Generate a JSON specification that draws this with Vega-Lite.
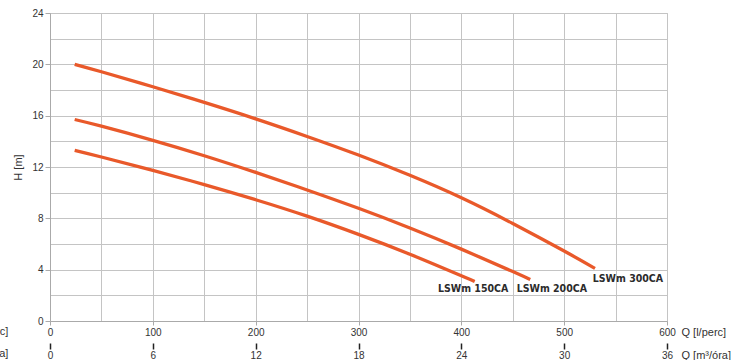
{
  "$schema": "https://vega.github.io/schema/vega-lite/v6.json",
  "width": 617,
  "height": 308,
  "autosize": "none",
  "padding": {"left": 50, "top": 13, "right": 79, "bottom": 39},
  "config": {
    "view": {"stroke": "#c4c4c4", "strokeWidth": 1},
    "font": "Liberation Sans",
    "axis": {
      "labelFont": "Liberation Sans",
      "labelFontSize": 10,
      "labelColor": "#333333",
      "titleFont": "Liberation Sans",
      "titleFontSize": 11,
      "titleFontWeight": "normal",
      "titleColor": "#333333",
      "domainColor": "#aaaaaa",
      "tickColor": "#aaaaaa",
      "gridColor": "#c4c4c4",
      "gridWidth": 1
    }
  },
  "datasets": {
    "curves": [
      {"model": "LSWm 300CA", "Q": 24, "H": 20.0},
      {"model": "LSWm 300CA", "Q": 50, "H": 19.42},
      {"model": "LSWm 300CA", "Q": 100, "H": 18.25},
      {"model": "LSWm 300CA", "Q": 150, "H": 17.03},
      {"model": "LSWm 300CA", "Q": 200, "H": 15.75},
      {"model": "LSWm 300CA", "Q": 250, "H": 14.38},
      {"model": "LSWm 300CA", "Q": 300, "H": 12.93},
      {"model": "LSWm 300CA", "Q": 350, "H": 11.35},
      {"model": "LSWm 300CA", "Q": 400, "H": 9.6},
      {"model": "LSWm 300CA", "Q": 450, "H": 7.6},
      {"model": "LSWm 300CA", "Q": 500, "H": 5.45},
      {"model": "LSWm 300CA", "Q": 530, "H": 4.1},
      {"model": "LSWm 200CA", "Q": 24, "H": 15.7},
      {"model": "LSWm 200CA", "Q": 50, "H": 15.18},
      {"model": "LSWm 200CA", "Q": 100, "H": 14.08},
      {"model": "LSWm 200CA", "Q": 150, "H": 12.88},
      {"model": "LSWm 200CA", "Q": 200, "H": 11.58},
      {"model": "LSWm 200CA", "Q": 250, "H": 10.21},
      {"model": "LSWm 200CA", "Q": 300, "H": 8.78},
      {"model": "LSWm 200CA", "Q": 350, "H": 7.25},
      {"model": "LSWm 200CA", "Q": 400, "H": 5.6},
      {"model": "LSWm 200CA", "Q": 450, "H": 3.85},
      {"model": "LSWm 200CA", "Q": 467, "H": 3.23},
      {"model": "LSWm 150CA", "Q": 24, "H": 13.3},
      {"model": "LSWm 150CA", "Q": 50, "H": 12.78},
      {"model": "LSWm 150CA", "Q": 100, "H": 11.73},
      {"model": "LSWm 150CA", "Q": 150, "H": 10.63},
      {"model": "LSWm 150CA", "Q": 200, "H": 9.45},
      {"model": "LSWm 150CA", "Q": 250, "H": 8.17},
      {"model": "LSWm 150CA", "Q": 300, "H": 6.75},
      {"model": "LSWm 150CA", "Q": 350, "H": 5.2},
      {"model": "LSWm 150CA", "Q": 400, "H": 3.52},
      {"model": "LSWm 150CA", "Q": 413, "H": 3.07}
    ],
    "labels": [
      {"label": "LSWm 150CA", "Q": 411.5, "H": 2.51},
      {"label": "LSWm 200CA", "Q": 488, "H": 2.51},
      {"label": "LSWm 300CA", "Q": 562, "H": 3.3}
    ],
    "sidetitles": [
      {"title": "Q [l/perc]", "Q": -40.5, "H": -0.86},
      {"title": "Q [m³/óra]", "Q": -40.5, "H": -2.6}
    ]
  },
  "resolve": {"axis": {"x": "independent", "y": "independent"}},
  "layer": [
    {
      "data": {"name": "curves"},
      "mark": {"type": "line", "interpolate": "natural", "color": "#e9592a", "strokeWidth": 3.3, "strokeCap": "butt"},
      "encoding": {
        "x": {
          "field": "Q", "type": "quantitative",
          "scale": {"domain": [0, 600], "nice": false, "zero": false},
          "axis": {
            "values": [0, 50, 100, 150, 200, 250, 300, 350, 400, 450, 500, 550, 600],
            "grid": true,
            "labelFlush": false,
            "labelOverlap": false,
            "labelExpr": "datum.value % 100 === 0 ? datum.label : ''",
            "tickColor": {"condition": {"test": "datum.value % 100 === 0", "value": "#aaaaaa"}, "value": "transparent"},
            "tickSize": 4,
            "labelPadding": 2,
            "title": "Q [l/perc]",
            "titleX": 631,
            "titleY": 11,
            "titleAlign": "left",
            "titleBaseline": "middle",
            "titleAnchor": null
          }
        },
        "y": {
          "field": "H", "type": "quantitative",
          "scale": {"domain": [0, 24], "nice": false},
          "axis": {
            "values": [0, 2, 4, 6, 8, 10, 12, 14, 16, 18, 20, 22, 24],
            "grid": true,
            "labelOverlap": false,
            "labelExpr": "datum.value % 4 === 0 ? datum.label : ''",
            "tickColor": {"condition": {"test": "datum.value % 4 === 0", "value": "#aaaaaa"}, "value": "transparent"},
            "tickSize": 5,
            "labelPadding": 2,
            "title": "H [m]",
            "titleX": -32,
            "titleY": 154,
            "titleAngle": -90,
            "titleAlign": "center",
            "titleBaseline": "middle"
          }
        },
        "detail": {"field": "model"}
      }
    },
    {
      "data": {"name": "labels"},
      "mark": {"type": "text", "font": "DejaVu Sans Condensed", "fontWeight": "bold", "fontSize": 10.5, "color": "#2b2b2b", "align": "center", "baseline": "middle"},
      "encoding": {
        "x": {
          "field": "Q", "type": "quantitative",
          "scale": {"domain": [0, 600], "nice": false, "zero": false},
          "axis": {
            "orient": "bottom",
            "offset": 22,
            "values": [0, 100, 200, 300, 400, 500, 600],
            "labelExpr": "format(datum.value * 0.06, 'd')",
            "labelFlush": false,
            "labelOverlap": false,
            "grid": false,
            "domain": false,
            "tickColor": "#222222",
            "tickWidth": 1.5,
            "tickSize": 6,
            "labelPadding": 1,
            "title": "Q [m³/óra]",
            "titleX": 631,
            "titleY": 12,
            "titleAlign": "left",
            "titleBaseline": "middle",
            "titleAnchor": null
          }
        },
        "y": {"field": "H", "type": "quantitative", "scale": {"domain": [0, 24], "nice": false}, "axis": null},
        "text": {"field": "label"}
      }
    },
    {
      "mark": {"type": "rule", "color": "#222222", "strokeWidth": 2},
      "encoding": {
        "x": {"datum": 0, "type": "quantitative", "axis": null},
        "x2": {"datum": 635},
        "y": {"datum": -1.72, "type": "quantitative", "axis": null}
      }
    },
    {
      "data": {"name": "sidetitles"},
      "mark": {"type": "text", "align": "right", "baseline": "middle", "fontSize": 11, "color": "#333333", "font": "Liberation Sans"},
      "encoding": {
        "x": {"field": "Q", "type": "quantitative", "axis": null},
        "y": {"field": "H", "type": "quantitative", "axis": null},
        "text": {"field": "title"}
      }
    }
  ]
}
